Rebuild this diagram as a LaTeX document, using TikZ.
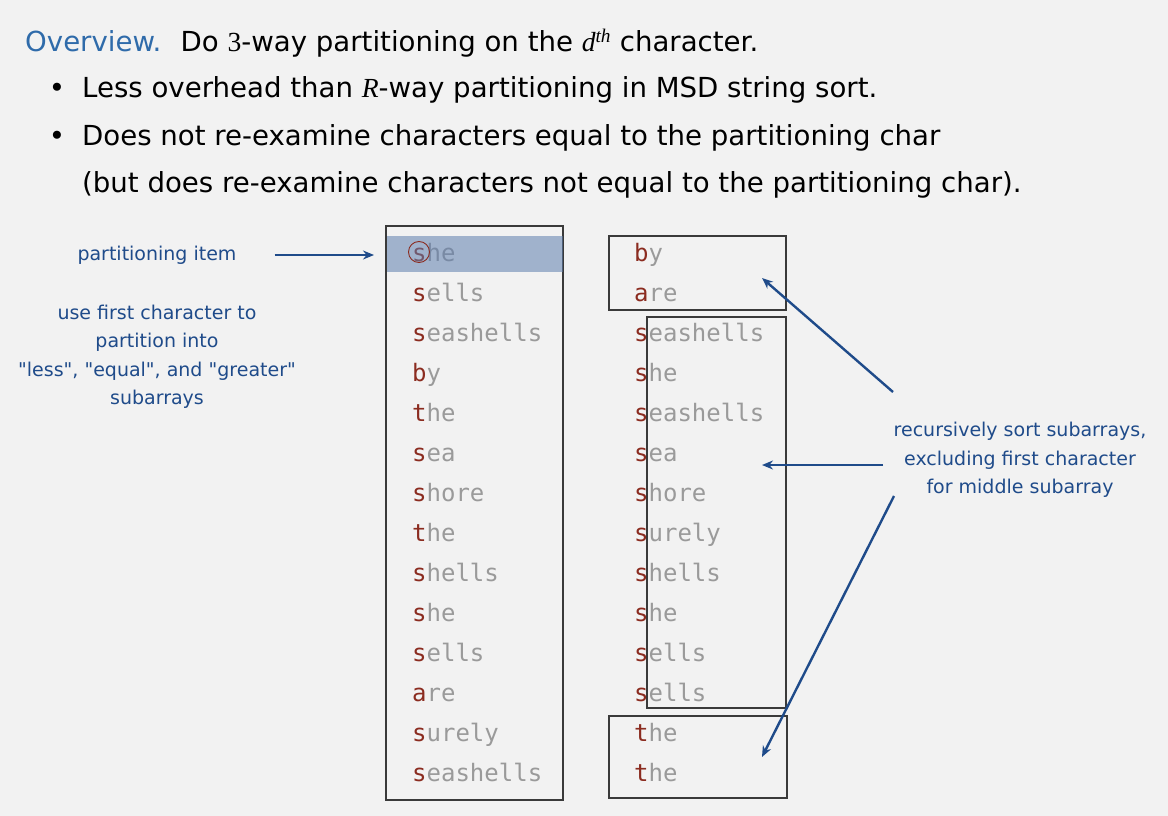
\documentclass[tikz,border=0pt]{standalone}
\usepackage{fontspec}
\setmainfont{DejaVu Sans}
\newfontfamily\slidemono{DejaVu Sans Mono}
\newfontfamily\slideserif{Liberation Serif}
\usetikzlibrary{arrows.meta,positioning}

\definecolor{slidebg}{HTML}{F2F2F2}
\definecolor{ovblue}{HTML}{2F6BAA}
\definecolor{noteblue}{HTML}{1F4B8A}
\definecolor{keyred}{HTML}{8B2C20}
\definecolor{restgrey}{HTML}{9A9A9A}
\definecolor{hlblue}{HTML}{5E7EAE}
\definecolor{boxgrey}{HTML}{3A3A3A}

% first character red, the rest grey
\newcommand{\kw}[2]{\textcolor{keyred}{#1}\textcolor{restgrey}{#2}}
\newcommand{\qt}[1]{\textquotedbl#1\textquotedbl}

\begin{document}
\begin{tikzpicture}[x=1pt,y=-1pt,
		word/.style = {anchor=base west, inner sep=0pt, font=\slidemono\fontsize{24}{24}\selectfont},
		line/.style = {anchor=base west, inner sep=0pt, font=\fontsize{27.6}{33}\selectfont},
		note/.style = {align=center, inner sep=0pt, text=noteblue, font=\fontsize{19}{28.5}\selectfont},
		box/.style  = {draw=boxgrey, line width=1.2pt},
		arr/.style  = {-{Stealth[length=11pt,width=9pt]}, draw=noteblue, line width=2.4pt}]
		
		% page background, fixed size
		\fill[slidebg] (0,0) rectangle (1168,816);
		\useasboundingbox (0,0) rectangle (1168,816);
		
		% title and bullets
		\node[line] (t0) at (25,52) {\textcolor{ovblue}{Overview.}\hspace{0.7em}Do {\slideserif 3}-way partitioning on the {\slideserif\itshape d\textsuperscript{th}} character.};
		\node[line] (t1) at (82,98) {Less overhead than {\slideserif\itshape R}-way partitioning in MSD string sort.};
		\node[line] (t2) at (82,145) {Does not re-examine characters equal to the partitioning char};
		\node[line] (t3) at (82,192) {(but does re-examine characters not equal to the partitioning char).};
		\node[line, anchor=base] (d1) at (57,98) {•};
		\node[line, anchor=base] (d2) at (57,145) {•};
		
		% input array
		\draw[box] (386,226) rectangle (563,800);
		\foreach \fst/\rst [count=\i] in {s/he, s/ells, s/eashells, b/y, t/he, s/ea, s/hore, t/he, s/hells, s/he, s/ells, a/re, s/urely, s/eashells}
		\node[word] (l\i) at (412,{221+40*\i}) {\kw{\fst}{\rst}};
		
		% partitioning item
		\fill[hlblue, opacity=0.55] (387,236) rectangle (563,272);
		\draw[keyred, line width=0.9pt] (419,252) circle (10.5);
		
		% array after partitioning
		\foreach \fst/\rst [count=\i] in {b/y, a/re, s/eashells, s/he, s/eashells, s/ea, s/hore, s/urely, s/hells, s/he, s/ells, s/ells, t/he, t/he}
		\node[word] (r\i) at (634,{221+40*\i}) {\kw{\fst}{\rst}};
		
		\draw[box] (609,236) rectangle (786,310);
		\draw[box] (647,317) rectangle (786,708);
		\draw[box] (609,716) rectangle (787,798);
		
		% notes
		\node[note] (pitem) at (157,255) {partitioning item};
		\node[note] (usefirst) at (157,357) {use first character to\\partition into\\\qt{less}, \qt{equal}, and \qt{greater}\\subarrays};
		\node[note] (recur) at (1020,460) {recursively sort subarrays,\\excluding first character\\for middle subarray};
		
		% arrows
		\coordinate (pTip) at (pitem.east -| l1.west);
		\coordinate (lessTip) at (762,278);
		\coordinate (eqTip) at (762,465);
		\coordinate (grTip) at (762,757);
		\coordinate (lessTail) at (893,392);
		\coordinate (eqTail) at (883,465);
		\coordinate (grTail) at (894,496);
		
		\draw[arr] ([xshift=38pt]pitem.east) -- ([xshift=-38pt]pTip);
		\draw[arr] (lessTail) -- (lessTip);
		\draw[arr] (eqTail) -- (eqTip);
		\draw[arr] (grTail) -- (grTip);
		
	\end{tikzpicture}
\end{document}
